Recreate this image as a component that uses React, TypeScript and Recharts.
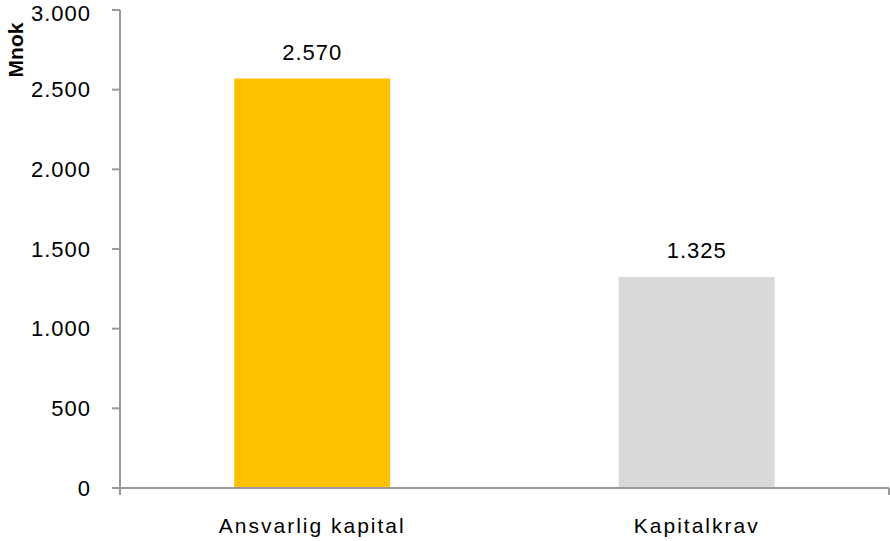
import { Bar, BarChart, LabelList, XAxis, YAxis } from "recharts";

const categories = ["Ansvarlig kapital", "Kapitalkrav"];
const values = [2570, 1325];
const barColors = ["#FFC000", "#D9D9D9"];
const yTicks = [0, 500, 1000, 1500, 2000, 2500, 3000];
const boundaryTicks = [0, 1, 2];

const data = categories.map((name, i) => ({
  name,
  value: values[i],
  fill: barColors[i],
}));

const fmt = (v: number) => v.toLocaleString("de-DE");
const font = "'Liberation Sans', Arial, sans-serif";
const axisColor = "#9a9a9a";

export default function App() {
  return (
    <div style={{ position: "absolute", left: 0, top: 0, background: "#fff" }}>
      <BarChart
        width={890}
        height={541}
        data={data}
        margin={{ top: 10, right: 1, bottom: 0, left: 0 }}
        barCategoryGap="29.7%"
        style={{ fontFamily: font }}
      >
        {/* boundary tick marks between categories */}
        <XAxis
          xAxisId="a"
          type="number"
          domain={[0, 2]}
          ticks={boundaryTicks}
          interval={0}
          height={1}
          axisLine={{ stroke: axisColor, strokeWidth: 2 }}
          tickFormatter={() => ""}
          tickSize={7}
          tickLine={{ stroke: axisColor, strokeWidth: 2 }}
        />
        <XAxis
          dataKey="name"
          xAxisId="b"
          height={52}
          interval={0}
          tickLine={false}
          tickSize={0}
          tickMargin={29}
          axisLine={false}
          tick={{ fill: "#000", fontSize: 21, letterSpacing: 2 }}
        />
        <YAxis
          width={120}
          domain={[0, 3000]}
          ticks={yTicks}
          tickFormatter={fmt}
          tickSize={8}
          tickMargin={21}
          axisLine={{ stroke: axisColor, strokeWidth: 2 }}
          tickLine={{ stroke: axisColor, strokeWidth: 2 }}
          tick={{ fill: "#000", fontSize: 22, letterSpacing: 1 }}
          label={{
            value: "Mnok",
            content: () => (
              <text
                transform="translate(23,50) rotate(-90)"
                textAnchor="middle"
                fontWeight="bold"
                fontSize={21}
                fill="#000"
                fontFamily={font}
              >
                Mnok
              </text>
            ),
          }}
        />
        <Bar dataKey="value" xAxisId="b" isAnimationActive={false}>
          <LabelList
            dataKey="value"
            position="top"
            offset={19}
            formatter={(v: any) => fmt(Number(v))}
            style={{ fill: "#000", fontSize: 22, letterSpacing: 1, fontFamily: font }}
          />
        </Bar>
      </BarChart>
    </div>
  );
}
